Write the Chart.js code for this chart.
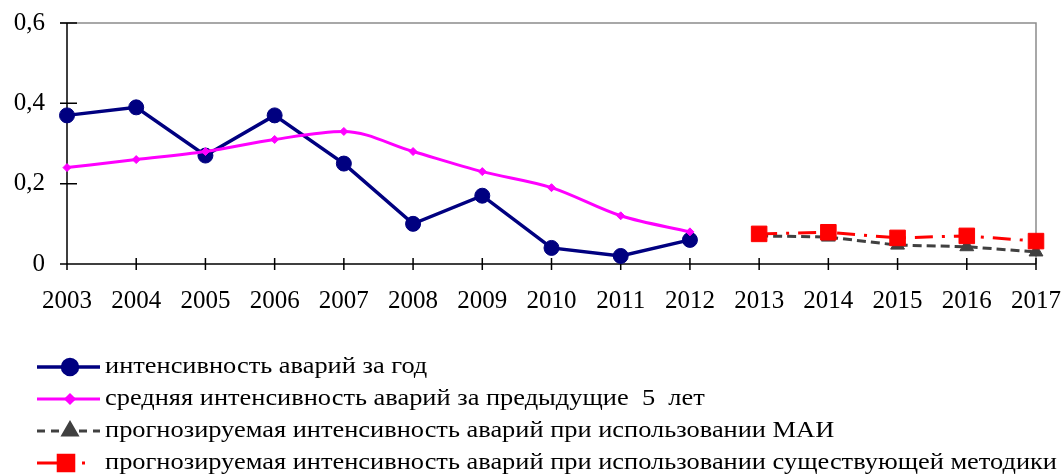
<!DOCTYPE html>
<html lang="ru">
<head>
<meta charset="utf-8">
<title>Интенсивность аварий</title>
<script src="https://cdn.jsdelivr.net/npm/chart.js@4.4.1/dist/chart.umd.min.js"></script>
<style>
    html, body { margin: 0; padding: 0; background: #ffffff; }
    #wrap { width: 1063px; height: 475px; position: relative; }
</style>
</head>
<body>
<div id="wrap"><canvas id="accidentChart"></canvas></div>
<script>
// ────────────────────────────────────────────────
// Data
// ────────────────────────────────────────────────
const years = ['2003', '2004', '2005', '2006', '2007', '2008', '2009', '2010',
    '2011', '2012', '2013', '2014', '2015', '2016', '2017'];

const yearlyRate = [0.37, 0.39, 0.27, 0.37, 0.25, 0.10, 0.17, 0.04, 0.02, 0.06,
    null, null, null, null, null];

const avgRate5y = [0.24, 0.26, 0.28, 0.31, 0.33, 0.28, 0.23, 0.19, 0.12, 0.08,
    null, null, null, null, null];

const forecastMai = [null, null, null, null, null, null, null, null, null, null,
    0.07, 0.067, 0.047, 0.043, 0.03];

const forecastCurrent = [null, null, null, null, null, null, null, null, null, null,
    0.075, 0.079, 0.065, 0.07, 0.057];

const yTickLabels = ['0', '0,2', '0,4', '0,6'];

const seriesLabels = [
    'интенсивность аварий за год',
    'средняя интенсивность аварий за предыдущие  5  лет',
    'прогнозируемая интенсивность аварий при использовании МАИ',
    'прогнозируемая интенсивность аварий при использовании существующей методики'
];

// ────────────────────────────────────────────────
// Layout constants
// ────────────────────────────────────────────────
const SERIF = '"Liberation Serif", "Times New Roman", serif';
const LEGEND_TOP = 367;
const LEGEND_ROW = 32;
const LEGEND_TEXT_X = 105;
const LEGEND_TEXT_WIDTH = 952;

// ────────────────────────────────────────────────
// Plugins
// ────────────────────────────────────────────────

/**
 * Frame: grey top/right border and ticks crossing the axes
 */
const framePlugin = {
    id: 'frame',
    beforeDatasetsDraw(chart) {
        const { ctx, chartArea } = chart;
        const xScale = chart.scales.x;
        const yScale = chart.scales.y;
        ctx.save();

        ctx.strokeStyle = '#8c8c8c';
        ctx.lineWidth = 1.5;
        ctx.beginPath();
        ctx.moveTo(chartArea.left - 7, chartArea.top);
        ctx.lineTo(chartArea.right, chartArea.top);
        ctx.lineTo(chartArea.right, chartArea.bottom);
        ctx.stroke();

        ctx.strokeStyle = '#000000';
        ctx.lineWidth = 1.5;
        ctx.beginPath();
        ctx.moveTo(chartArea.left, chartArea.top);
        ctx.lineTo(chartArea.left, chartArea.bottom);
        ctx.moveTo(chartArea.left - 7, chartArea.bottom);
        ctx.lineTo(chartArea.right, chartArea.bottom);
        yScale.ticks.forEach((t, i) => {
            const py = yScale.getPixelForTick(i);
            ctx.moveTo(chartArea.left - 7, py);
            ctx.lineTo(chartArea.left + 10, py);
        });
        xScale.ticks.forEach((t, i) => {
            const px = xScale.getPixelForTick(i);
            ctx.moveTo(px, chartArea.bottom - 6);
            ctx.lineTo(px, chartArea.bottom + 6);
        });
        ctx.stroke();
        ctx.restore();
    }
};

/**
 * Legend: one series per row, below the plot
 */
const rowLegendPlugin = {
    id: 'rowLegend',
    afterDraw(chart) {
        const ctx = chart.ctx;
        const sets = chart.data.datasets;
        ctx.save();
        ctx.font = '23px ' + SERIF;
        const widest = Math.max(...sets.map(d => ctx.measureText(d.label).width));
        const stretch = LEGEND_TEXT_WIDTH / widest;

        sets.forEach((ds, i) => {
            const y = LEGEND_TOP + i * LEGEND_ROW;

            ctx.save();
            ctx.strokeStyle = ds.borderColor;
            ctx.lineWidth = ds.borderWidth;
            ctx.setLineDash(ds.legendDash || []);
            ctx.beginPath();
            ctx.moveTo(37, y);
            ctx.lineTo(100, y);
            ctx.stroke();
            ctx.setLineDash([]);
            ctx.fillStyle = ds.pointBackgroundColor;
            ctx.strokeStyle = ds.pointBorderColor;
            Chart.helpers.drawPoint(ctx, {
                pointStyle: ds.pointStyle,
                radius: ds.pointRadius,
                borderWidth: ds.pointBorderWidth,
                rotation: 0
            }, ds.legendMarkX || 70, y);
            ctx.restore();

            ctx.save();
            ctx.fillStyle = '#000000';
            ctx.textBaseline = 'middle';
            ctx.translate(LEGEND_TEXT_X, y);
            ctx.scale(stretch, 1);
            ctx.fillText(ds.label, 0, 0);
            ctx.restore();
        });
        ctx.restore();
    }
};

// ────────────────────────────────────────────────
// Chart
// ────────────────────────────────────────────────
const ctx = document.getElementById('accidentChart').getContext('2d');

new Chart(ctx, {
    type: 'line',
    data: {
        labels: years,
        datasets: [
            {
                label: seriesLabels[0],
                data: yearlyRate,
                borderColor: '#000080',
                borderWidth: 3.5,
                pointStyle: 'circle',
                pointRadius: 7.5,
                pointBackgroundColor: '#000080',
                pointBorderColor: '#000080',
                pointBorderWidth: 1,
                tension: 0,
                order: 2
            },
            {
                label: seriesLabels[1],
                data: avgRate5y,
                borderColor: '#ff00ff',
                borderWidth: 3,
                pointStyle: 'rectRot',
                pointRadius: 4,
                pointBackgroundColor: '#ff00ff',
                pointBorderColor: '#ff00ff',
                pointBorderWidth: 1,
                cubicInterpolationMode: 'monotone',
                order: 1
            },
            {
                label: seriesLabels[2],
                data: forecastMai,
                borderColor: '#404040',
                borderWidth: 3,
                borderDash: [9, 5],
                legendDash: [8, 6],
                pointStyle: 'triangle',
                pointRadius: 8,
                pointBackgroundColor: '#404040',
                pointBorderColor: '#404040',
                pointBorderWidth: 1,
                tension: 0,
                order: 4
            },
            {
                label: seriesLabels[3],
                data: forecastCurrent,
                borderColor: '#ff0000',
                borderWidth: 3,
                borderDash: [18, 9, 3, 9],
                legendDash: [23, 22, 3, 30],
                legendMarkX: 66,
                pointStyle: 'rect',
                pointRadius: 11,
                pointBackgroundColor: '#ff0000',
                pointBorderColor: '#ff0000',
                pointBorderWidth: 1,
                tension: 0,
                order: 3
            }
        ]
    },
    options: {
        responsive: true,
        maintainAspectRatio: false,
        animation: false,
        layout: {
            padding: { top: 23, right: 27, bottom: 161, left: 0 }
        },
        plugins: {
            legend: { display: false },
            tooltip: { enabled: false }
        },
        scales: {
            x: {
                offset: false,
                grid: { display: false },
                border: { display: false },
                ticks: {
                    color: '#000000',
                    font: { family: SERIF, size: 25 },
                    padding: 14,
                    maxRotation: 0,
                    autoSkip: false
                },
                afterFit: scale => {
                    scale.height = 50;
                    scale.paddingLeft = 0;
                    scale.paddingRight = 0;
                }
            },
            y: {
                min: 0,
                max: 0.6,
                grid: { display: false },
                border: { display: false },
                ticks: {
                    stepSize: 0.2,
                    color: '#000000',
                    font: { family: SERIF, size: 25 },
                    padding: 14,
                    callback: (value, index) => yTickLabels[index]
                },
                afterFit: scale => {
                    scale.width = 67;
                    scale.paddingTop = 0;
                    scale.paddingBottom = 0;
                }
            }
        }
    },
    plugins: [framePlugin, rowLegendPlugin]
});
</script>
</body>
</html>
